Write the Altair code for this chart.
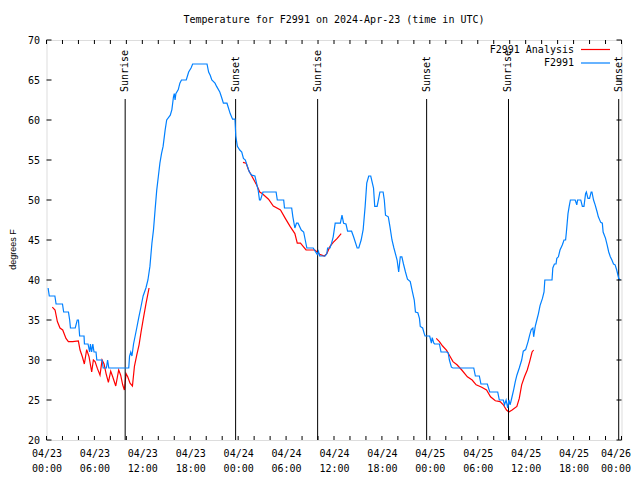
import altair as alt
import pandas as pd

# ---------------- data (hours since 2024-04-23 00:00 UTC) ----------------
obs_hours = [0.2, 0.35, 1.05, 1.2, 2.0, 2.15, 2.75, 2.9, 3.0, 3.6, 3.85, 4.0, 4.15, 4.7, 4.75, 5.2,
             5.4, 5.5, 5.65, 5.8, 5.95, 6.2, 6.3, 6.95, 7.1, 7.5, 7.65, 7.8, 10.3,
             10.4, 10.55, 10.7, 10.9, 11.3, 11.55, 11.8, 12.1, 12.45, 12.7, 12.95, 13.2, 13.4,
             13.6, 13.8, 14.0, 14.2, 14.4, 14.6, 14.85, 15.05, 15.5, 15.7, 15.9, 16.0, 16.1,
             16.2, 16.5, 16.7, 16.9, 17.5, 17.8, 18.1, 18.3, 20.1, 20.3, 20.5, 20.7, 21.1,
             21.3, 21.7, 21.9, 22.15, 22.6, 23.0, 23.3, 23.6, 23.7, 23.9, 24.2, 24.45, 24.66,
             24.9, 25.16, 25.4, 25.7, 26.1, 26.3, 26.5, 26.67, 26.8, 27.1, 28.75, 28.9, 29.7,
             29.8, 30.7, 30.85, 31.1, 31.3, 31.5, 31.9, 32.2, 32.4, 32.6, 33.4, 33.7, 33.9,
             34.05, 34.2, 34.9, 35.1, 35.2, 35.5, 35.7, 35.9, 36.15, 36.8, 37.0, 37.2, 37.5,
             37.7, 38.2, 38.45, 38.9, 39.1, 39.4, 39.65, 39.9, 40.1, 40.35, 40.6, 40.95, 41.1,
             41.4, 41.6, 41.75, 42.15, 42.3, 42.45, 42.8, 43.0, 43.26, 43.5, 43.9, 44.1, 44.3,
             44.5, 44.7, 44.95, 45.2, 45.55, 45.8, 46.05, 46.2, 46.5, 46.7, 46.8, 47.1, 47.3,
             47.4, 47.98, 48.2, 48.3, 48.5, 48.6, 49.2, 49.4, 50.1, 50.3, 50.45, 50.7, 50.9,
             53.5, 53.7, 54.2, 54.4, 55.2, 55.5, 56.5, 56.7, 57.2, 57.35, 57.55, 57.75, 57.9,
             58.05, 58.2, 58.5, 58.7, 58.9, 59.2, 59.5, 59.7, 60.0, 60.3, 60.5, 60.7, 60.9,
             61.0, 61.2, 61.4, 61.6, 61.8, 62.1, 62.3, 62.4, 63.3, 63.4, 63.6, 63.8, 63.9,
             64.1, 64.3, 64.6, 64.8, 65.0, 65.1, 65.3, 65.45, 65.6, 66.2, 66.4, 66.5, 66.9,
             67.1, 67.3, 67.5, 67.6, 67.8, 68.0, 68.2, 68.3, 68.5, 68.7, 68.95, 69.1, 69.4,
             69.6, 69.7, 70.0, 70.2, 70.4, 70.6, 70.8, 71.0, 71.2, 71.4, 71.65, 71.85]
obs_temps = [39, 38, 38, 37, 37, 36, 36, 35, 34, 34, 35, 35, 33, 33, 32, 32,
             31, 32, 31, 32, 31, 31, 30, 30, 29, 29, 30, 29, 29,
             30.5, 31, 30.5, 32, 34, 35.3, 36.5, 38, 39, 40, 41.7, 44.6, 46.3,
             48.8, 51.2, 52.9, 54.6, 55.8, 56.7, 58.7, 60, 60.6, 61.3, 62.9, 63.3, 62.5,
             63.3, 63.8, 64.6, 65, 65, 66, 66.5, 67, 67, 66, 65.6, 65, 64.6,
             64.2, 63.5, 62.9, 62.1, 62.1, 60.8, 60.1, 60.1, 58, 56.7, 56.25, 56, 55.2,
             55, 54.2, 53.5, 53.1, 53, 52.1, 51.25, 50, 50, 51, 51, 50, 50,
             49, 49, 47.9, 46.5, 47.1, 47.1, 46.25, 46, 45, 44, 44, 43.5, 43.2,
             43.6, 43, 43, 43.3, 44, 44, 44.6, 45.4, 47.1, 47.1, 48.1, 47.1, 47,
             46.1, 46.1, 45.4, 44, 44, 45, 46.3, 49.2, 52.1, 53, 53, 51.5, 49.2,
             49.2, 50.2, 51, 51, 50, 48.1, 47.9, 46.7, 45, 44, 42.5, 41, 42.9,
             42.9, 42, 41, 40.1, 39.8, 38.6, 37.5, 36, 35.9, 35.2, 34.2, 34, 33.3,
             33, 33, 32.1, 32.8, 32.1, 32, 32, 31, 31, 30.9, 30, 29.1, 29,
             29, 28, 28, 27, 27, 26, 26, 25, 25, 24.4, 25, 24, 25,
             24.4, 25, 26.3, 27.3, 28.1, 29, 30, 31.1, 31.3, 32.3, 33.1, 33.8, 34,
             32.9, 34.2, 35, 35.8, 36.8, 37.7, 38.5, 40, 40, 41.5, 42, 42, 42.7,
             42.9, 43.75, 44.4, 45, 45, 46, 48.3, 49.2, 50, 50, 49.4, 50, 50,
             49.2, 49.2, 50.8, 51, 50.2, 50.2, 51, 51, 50, 49.4, 48.5, 47.9, 47.2,
             47.1, 46, 45.2, 44.4, 43.5, 42.9, 42.5, 42, 41.9, 41.25, 40.2, 40]

ana1_hours = [0.73, 1.07, 1.36, 1.69, 2.03, 2.44, 2.74, 3.28, 3.99, 4.2, 4.49, 4.74, 5.03, 5.33,
              5.66, 5.87, 6.08, 6.37, 6.7, 6.96, 7.21, 7.46, 7.75, 8.04, 8.29, 8.67, 9.04, 9.29,
              9.54, 9.75, 9.96, 10.17, 10.46, 10.76, 11.01, 11.3, 11.59, 11.84, 12.13, 12.47, 12.84]
ana1_temps = [36.6, 36.25, 34.8, 34.0, 33.75, 32.7, 32.3, 32.3, 32.4, 31.25, 30.4, 29.5, 31.3, 30.4,
              28.5, 30.0, 29.8, 28.95, 28.1, 30.0, 29.5, 28.3, 27.2, 28.6, 27.9, 26.75, 28.75, 28.1,
              26.9, 26.25, 28.3, 27.9, 27.1, 26.75, 29.2, 30.6, 31.9, 33.5, 35.2, 37.1, 39.0]
ana2_hours = [24.6, 25.0, 25.3, 25.7, 26.3, 26.7, 27.0, 27.8, 28.4, 29.3, 29.9, 30.5, 31.1, 31.4,
              31.8, 32.5, 33.6, 34.0, 34.2, 34.8, 35.1, 35.5, 35.9, 36.4, 36.9]
ana2_temps = [54.7, 54.6, 53.75, 53.0, 51.9, 51.0, 50.8, 50.1, 49.25, 48.75, 47.7, 46.7, 45.8, 44.6,
              44.6, 43.75, 43.75, 43.4, 43.2, 43.0, 43.3, 44.2, 44.7, 45.2, 45.8]
ana3_hours = [48.8, 49.2, 49.6, 50.1, 50.5, 50.9, 51.4, 52.0, 52.7, 53.3, 53.8, 54.5, 55.1, 55.6,
              56.2, 56.8, 57.2, 57.6, 57.9, 58.3, 58.9, 59.2, 59.5, 59.85, 60.2, 60.5, 60.8, 61.0]
ana3_temps = [32.7, 32.3, 31.75, 31.2, 30.5, 29.8, 29.4, 28.75, 27.9, 27.5, 26.9, 26.6, 26.25, 25.4,
              24.9, 24.8, 24.4, 23.75, 23.5, 23.75, 24.2, 25.2, 26.9, 27.9, 28.75, 29.8, 31.0, 31.25]

sun_hours = [9.85, 23.68, 33.95, 47.6, 57.85, 71.65]
sun_labels = ["Sunrise", "Sunset", "Sunrise", "Sunset", "Sunrise", "Sunset"]

x_tick_hours = list(range(0, 73, 2))
x_label_hours = list(range(0, 73, 6))
y_ticks = [20, 25, 30, 35, 40, 45, 50, 55, 60, 65, 70]

title_text = "Temperature for F2991 on 2024-Apr-23 (time in UTC)"
series_names = ["F2991 Analysis", "F2991"]
series_colors = ["#ff0000", "#0080ff"]

# ---------------- helpers ----------------
BASE = pd.Timestamp("2024-04-23 00:00:00")


def iso(hours):
    return [(BASE + pd.Timedelta(hours=h)).strftime("%Y-%m-%dT%H:%M:%SZ") for h in hours]


def dt(h):
    t = BASE + pd.Timedelta(hours=h)
    return alt.DateTime(year=t.year, month=t.month, date=t.day, hours=t.hour, utc=True)


obs_df = pd.DataFrame({"time": iso(obs_hours), "temp": obs_temps})
ana_df = pd.concat([
    pd.DataFrame({"time": iso(ana1_hours), "temp": ana1_temps, "seg": 1}),
    pd.DataFrame({"time": iso(ana2_hours), "temp": ana2_temps, "seg": 2}),
    pd.DataFrame({"time": iso(ana3_hours), "temp": ana3_temps, "seg": 3}),
])
sun_df = pd.DataFrame({"time": iso(sun_hours), "label": sun_labels})
xt_df = pd.DataFrame({"time": iso(x_tick_hours)})
yt_df = pd.DataFrame({"temp": y_ticks})

FONT = "DejaVu Sans Mono"
W, H = 575, 400

xscale = alt.Scale(type="utc", domain=[dt(0), dt(72)], nice=False)
yscale = alt.Scale(domain=[20, 70], nice=False, zero=False)

x_axis = alt.Axis(
    values=[dt(h) for h in x_label_hours],
    labelExpr="[utcFormat(datum.value, '%m/%d'), utcFormat(datum.value, '%H:%M')]",
    title=None, grid=False, ticks=False, domain=False,
    labelFont=FONT, labelFontSize=10, labelColor="black", labelPadding=8,
    labelLineHeight=15, labelOverlap=False, labelFlush=False, labelBound=False,
    labelOffset={"condition": {"test": "datum.value >= utc(2024, 3, 25, 23, 0)", "value": -6},
                 "value": 0},
)
y_axis = alt.Axis(
    values=y_ticks, title="degrees F", grid=False, ticks=False, domain=False,
    labelFont=FONT, labelFontSize=10, labelColor="black", labelPadding=7,
    labelOverlap=False, labelFlush=False, labelBound=False,
    titleFont="Liberation Sans", titleFontSize=9, titleFontWeight="normal",
    titleColor="black", titleAngle=270, titleX=-31, titleY=209,
    titleAlign="center", titleBaseline="alphabetic",
)

X = alt.X("time:T", scale=xscale, axis=x_axis)
Y = alt.Y("temp:Q", scale=yscale, axis=y_axis)

sun_rules = alt.Chart(sun_df).mark_rule(color="black", strokeWidth=1).encode(
    x=X, y=alt.value(59), y2=alt.value(H))
sun_text = alt.Chart(sun_df).mark_text(
    angle=270, align="left", baseline="middle", font=FONT, fontSize=10, color="black"
).encode(x=X, y=alt.value(52), text="label:N")

ana_line = alt.Chart(ana_df).mark_line(color=series_colors[0], strokeWidth=1.2).encode(
    x=X, y=Y, detail="seg:N")
obs_line = alt.Chart(obs_df).mark_line(color=series_colors[1], strokeWidth=1.2).encode(
    x=X, y=Y)

xt_bottom = alt.Chart(xt_df).mark_rule(color="black").encode(
    x=X, y=alt.value(H), y2=alt.value(H - 4))
xt_top = alt.Chart(xt_df).mark_rule(color="black").encode(
    x=X, y=alt.value(0), y2=alt.value(4))
yt_left = alt.Chart(yt_df).mark_rule(color="black").encode(
    y=Y, x=alt.value(0), x2=alt.value(5))
yt_right = alt.Chart(yt_df).mark_rule(color="black").encode(
    y=Y, x=alt.value(W), x2=alt.value(W - 5))

title_layer = alt.Chart(pd.DataFrame({"t": [title_text]})).mark_text(
    align="center", baseline="alphabetic", font=FONT, fontSize=10, color="black"
).encode(x=alt.value(W / 2), y=alt.value(-17), text="t:N")

legend_layers = []
for i, (name, col) in enumerate(zip(series_names, series_colors)):
    ly = 9.5 + 13.5 * i
    legend_layers.append(
        alt.Chart(pd.DataFrame({"name": [name]})).mark_text(
            align="right", baseline="middle", font=FONT, fontSize=10, color="black"
        ).encode(x=alt.value(527.5), y=alt.value(ly), text="name:N"))
    legend_layers.append(
        alt.Chart(pd.DataFrame({"name": [name]})).mark_rule(color=col, strokeWidth=1.2).encode(
            x=alt.value(534.5), x2=alt.value(563.5), y=alt.value(ly)))

chart = alt.layer(
    ana_line, sun_rules, sun_text, obs_line,
    xt_bottom, xt_top, yt_left, yt_right, title_layer, *legend_layers
).properties(
    width=W, height=H,
    autosize=alt.AutoSizeParams(type="none"),
    padding={"left": 38.5, "top": 32, "right": 10, "bottom": 32},
).configure_view(stroke="black", strokeWidth=1).configure(background="white")

chart.save("out.html", embed_options={"renderer": "svg", "actions": False})
